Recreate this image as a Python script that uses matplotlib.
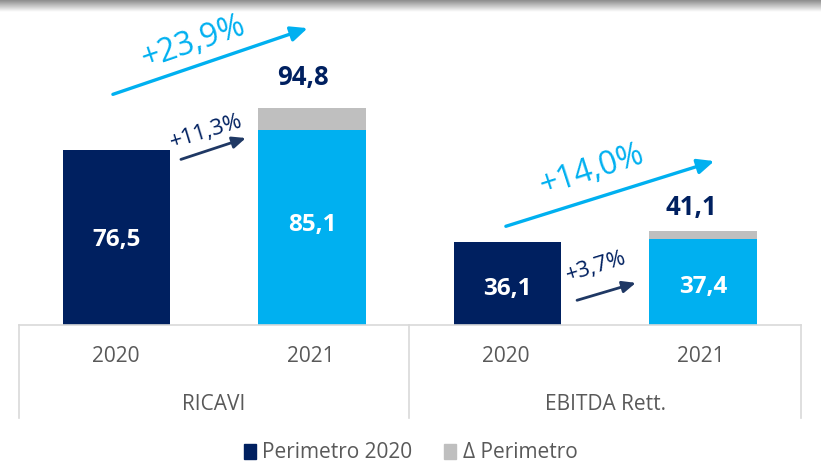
import numpy as np
import matplotlib
matplotlib.use("Agg")
import matplotlib.pyplot as plt
from matplotlib.patches import Patch

plt.rcParams['font.family'] = ['Open Sans', 'DejaVu Sans']

groups = ['RICAVI', 'EBITDA Rett.']
years = ['2020', '2021', '2020', '2021']
perimetro = [76.5, 85.1, 36.1, 37.4]
totale = [None, 94.8, None, 41.1]
delta = [0, 94.8 - 85.1, 0, 41.1 - 37.4]
growth_tot = ['+23,9%', '+14,0%']
growth_per = ['+11,3%', '+3,7%']

navy = '#002060'
cyan = '#00b0f0'
grey = '#bfbfbf'
arrow_dark = '#1f3864'
txt = '#595959'
line = '#d9d9d9'


def fmt(v):
    return f"{v:.1f}".replace('.', ',')


fig = plt.figure(figsize=(8.21, 4.76), dpi=100)
ax = fig.add_axes([0.0231, 0.317, 0.9525, 0.683])

x = np.arange(4)
cols = [navy, cyan, navy, cyan]
ax.bar(x, perimetro, width=0.55, color=cols, zorder=2)
ax.bar(x, delta, bottom=perimetro, width=0.55, color=grey, zorder=2)

ax.set_xlim(-0.5, 3.5)
ax.set_ylim(0, 142)
ax.axis('off')

# values inside bars
in_y = [37, 43.7, 15.7, 16.6]
for i in range(4):
    ax.text(x[i], in_y[i], fmt(perimetro[i]), color='white',
            fontsize=17.5, fontweight='bold', ha='center', va='center')

# totals on top
ax.text(0.95, 108.3, fmt(totale[1]), color=navy, fontsize=18.5, fontweight='bold', ha='center', va='center')
ax.text(2.94, 51.5, fmt(totale[3]), color=navy, fontsize=18.5, fontweight='bold', ha='center', va='center')

# big growth arrows
ax.annotate('', xy=(0.99, 130.1), xytext=(-0.033, 100.4),
            arrowprops=dict(arrowstyle='-|>,head_length=1.0,head_width=0.45', color=cyan, lw=2.4))
ax.text(0.39, 123.6, growth_tot[0], color=cyan, fontsize=23, rotation=19, ha='center', va='center')
ax.annotate('', xy=(3.07, 72), xytext=(1.977, 42.8),
            arrowprops=dict(arrowstyle='-|>,head_length=1.0,head_width=0.45', color=cyan, lw=2.4))
ax.text(2.43, 67.7, growth_tot[1], color=cyan, fontsize=23, rotation=18, ha='center', va='center')

# small arrows
ax.annotate('', xy=(0.674, 82.1), xytext=(0.315, 72),
            arrowprops=dict(arrowstyle='-|>,head_length=0.8,head_width=0.35', color=arrow_dark, lw=2))
ax.text(0.46, 84.5, growth_per[0], color=navy, fontsize=16, rotation=17, ha='center', va='center')
ax.annotate('', xy=(2.669, 18.8), xytext=(2.341, 10.5),
            arrowprops=dict(arrowstyle='-|>,head_length=0.8,head_width=0.35', color=arrow_dark, lw=2))
ax.text(2.45, 25.5, growth_per[1], color=navy, fontsize=16, rotation=17, ha='center', va='center')

# category axis drawn in figure coords
W, H = 821, 476
def fx(px): return px / W
def fy(py): return 1 - py / H

fig.add_artist(plt.Line2D([fx(19), fx(801)], [fy(325), fy(325)], color=line, lw=1.2))
for px in [19, 409, 801]:
    fig.add_artist(plt.Line2D([fx(px), fx(px)], [fy(325), fy(418)], color=line, lw=1.2))
for px, lab in zip([116, 311, 506, 701], years):
    fig.text(fx(px), fy(356), lab, color=txt, fontsize=15, ha='center', va='center')
for px, lab in zip([214, 605], groups):
    fig.text(fx(px), fy(405), lab, color=txt, fontsize=15, ha='center', va='center')

# top shadow
sh = fig.add_axes([0, 1 - 12 / H, 1, 12 / H])
grad = np.linspace(0.55, 1.0, 50).reshape(-1, 1)
sh.imshow(np.repeat(grad, 10, axis=1), cmap='gray', vmin=0, vmax=1, aspect='auto')
sh.axis('off')

handles = [Patch(color=navy, label='Perimetro 2020'), Patch(color=grey, label='Δ Perimetro')]
fig.legend(handles=handles, loc='center', bbox_to_anchor=(0.5, fy(453)), ncol=2, frameon=False,
           fontsize=15, labelcolor=txt, handlelength=0.6, handleheight=0.7, handletextpad=0.3,
           columnspacing=1.5)

fig.savefig('out.png', dpi=100)
